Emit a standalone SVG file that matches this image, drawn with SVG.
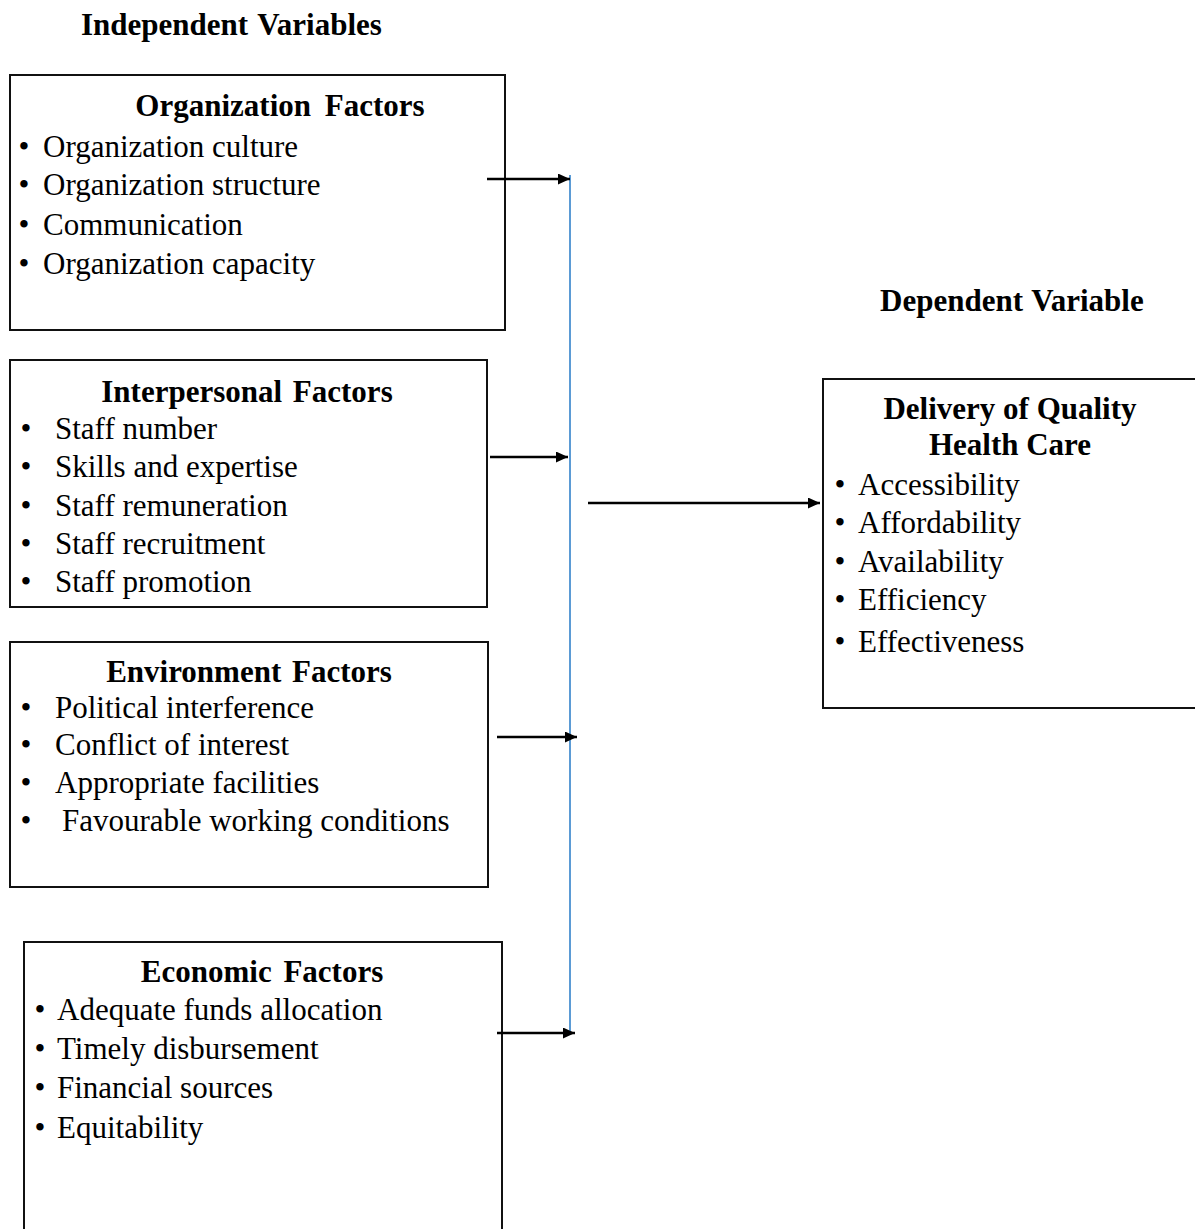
<svg xmlns="http://www.w3.org/2000/svg" width="1195" height="1229" viewBox="0 0 1195 1229">
<style>
text{font-family:"Liberation Serif","Times New Roman",serif;fill:#000}
.h{font-size:31px;font-weight:bold}
.t{font-size:31px;font-weight:bold;text-anchor:middle}
.i{font-size:31px}
.box{fill:#fff;stroke:#111;stroke-width:2}
.arr{stroke:#000;stroke-width:2.4;fill:none;marker-end:url(#ah)}
</style>
<defs>
<marker id="ah" markerWidth="13" markerHeight="11" refX="12" refY="5.5" orient="auto" markerUnits="userSpaceOnUse">
<path d="M0,0 L12,5.5 L0,11 Z" fill="#000"/>
</marker>
</defs>
<rect width="1195" height="1229" fill="#fff"/>
<text class="h" x="81" y="35" word-spacing="2">Independent Variables</text>
<text class="h" x="880" y="311" word-spacing="1">Dependent Variable</text>

<g id="org">
<rect class="box" x="10" y="75" width="495" height="255"/>
<text class="t" x="280" y="116" word-spacing="6">Organization Factors</text>
<text class="i" x="18.5" y="157">•</text><text class="i" x="43" y="157">Organization culture</text>
<text class="i" x="18.5" y="195">•</text><text class="i" x="43" y="195">Organization structure</text>
<text class="i" x="18.5" y="235">•</text><text class="i" x="43" y="235">Communication</text>
<text class="i" x="18.5" y="274">•</text><text class="i" x="43" y="274">Organization capacity</text>
</g>

<g id="interpersonal">
<rect class="box" x="10" y="360" width="477" height="247"/>
<text class="t" x="247" y="402" word-spacing="3">Interpersonal Factors</text>
<text class="i" x="20.5" y="439">•</text><text class="i" x="55" y="439">Staff number</text>
<text class="i" x="20.5" y="477">•</text><text class="i" x="55" y="477">Skills and expertise</text>
<text class="i" x="20.5" y="516">•</text><text class="i" x="55" y="516">Staff remuneration</text>
<text class="i" x="20.5" y="554">•</text><text class="i" x="55" y="554">Staff recruitment</text>
<text class="i" x="20.5" y="592">•</text><text class="i" x="55" y="592">Staff promotion</text>
</g>

<g id="environment">
<rect class="box" x="10" y="642" width="478" height="245"/>
<text class="t" x="249" y="682" word-spacing="3">Environment Factors</text>
<text class="i" x="20.5" y="718">•</text><text class="i" x="55" y="718">Political interference</text>
<text class="i" x="20.5" y="755">•</text><text class="i" x="55" y="755">Conflict of interest</text>
<text class="i" x="20.5" y="793">•</text><text class="i" x="55" y="793">Appropriate facilities</text>
<text class="i" x="20.5" y="831">•</text><text class="i" x="62" y="831">Favourable working conditions</text>
</g>

<g id="economic">
<rect class="box" x="24" y="942" width="478" height="300"/>
<text class="t" x="262" y="982" word-spacing="4">Economic Factors</text>
<text class="i" x="34.5" y="1020">•</text><text class="i" x="57" y="1020">Adequate funds allocation</text>
<text class="i" x="34.5" y="1059">•</text><text class="i" x="57" y="1059">Timely disbursement</text>
<text class="i" x="34.5" y="1098">•</text><text class="i" x="57" y="1098">Financial sources</text>
<text class="i" x="34.5" y="1138">•</text><text class="i" x="57" y="1138">Equitability</text>
</g>

<g id="delivery">
<rect class="box" x="823" y="379" width="380" height="329"/>
<text class="t" x="1010" y="419">Delivery of Quality</text>
<text class="t" x="1010" y="455">Health Care</text>
<text class="i" x="834.5" y="495">•</text><text class="i" x="858" y="495">Accessibility</text>
<text class="i" x="834.5" y="533">•</text><text class="i" x="858" y="533">Affordability</text>
<text class="i" x="834.5" y="572">•</text><text class="i" x="858" y="572">Availability</text>
<text class="i" x="834.5" y="610">•</text><text class="i" x="858" y="610">Efficiency</text>
<text class="i" x="834.5" y="652">•</text><text class="i" x="858" y="652">Effectiveness</text>
</g>

<g id="connectors">
<line x1="570" y1="175" x2="570" y2="1031" stroke="#5b9bd5" stroke-width="2"/>
<line class="arr" x1="487" y1="179" x2="570" y2="179"/>
<line class="arr" x1="490" y1="457" x2="568" y2="457"/>
<line class="arr" x1="497" y1="737" x2="577" y2="737"/>
<line class="arr" x1="497" y1="1033" x2="575" y2="1033"/>
<line class="arr" x1="588" y1="503" x2="820" y2="503"/>
</g>
</svg>
